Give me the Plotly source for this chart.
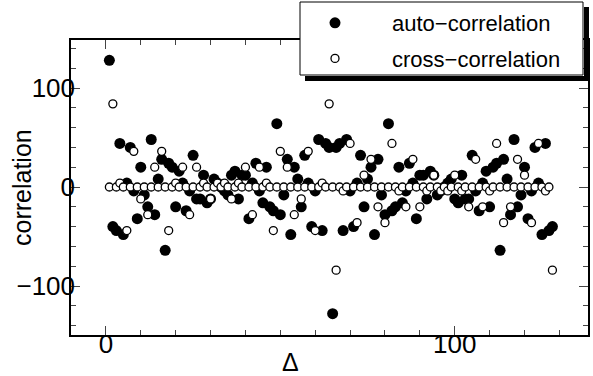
import plotly.graph_objects as go

# lag values
delta = list(range(1, 129))

# auto-correlation values (Δ = 1 … 128)
auto_corr = [128, -40, -44, 44, -48, 4, 40, -4, -32, 20,
             -8, -20, 48, -28, 8, 28, -64, 24, 20, -20,
             16, 4, -24, -4, 32, -12, -12, 12, -16, -12,
             8, 4, 0, -4, -8, 12, 16, -12, 12, 12,
             -32, 4, 24, -4, -16, 20, -20, -24, 64, -28,
             -8, 28, -48, 20, 8, -20, 32, 4, -40, -4,
             48, -44, 44, 40, -128, 40, 44, -44, 48, -4,
             -40, 4, 32, -20, 8, 20, -48, 28, -8, -28,
             64, -24, -20, 20, -16, -4, 24, 4, -32, 12,
             12, -12, 16, 12, -8, -4, 0, 4, 8, -12,
             -16, 12, -12, -12, 32, -4, -24, 4, 16, -20,
             20, 24, -64, 28, 8, -28, 48, -20, -8, 20,
             -32, -4, 40, 4, -48, 44, -44, -40]

# cross-correlation values (Δ = 1 … 128)
cross_corr = [0, 84, 0, 4, 0, -44, 0, 36, 0, -12,
              0, -28, 0, 20, 0, 36, 0, -44, 0, 4,
              0, 20, 0, -28, 0, 20, 0, 4, 0, -12,
              0, 4, 0, 4, 0, -12, 0, 4, 0, 20,
              0, -28, 0, 20, 0, 4, 0, -44, 0, 36,
              0, 20, 0, -28, 0, -12, 0, 36, 0, -44,
              0, 4, 0, 84, 0, -84, 0, -4, 0, 44,
              0, -36, 0, 12, 0, 28, 0, -20, 0, -36,
              0, 44, 0, -4, 0, -20, 0, 28, 0, -20,
              0, -4, 0, 12, 0, -4, 0, -4, 0, 12,
              0, -4, 0, -20, 0, 28, 0, -20, 0, -4,
              0, 44, 0, -36, 0, -20, 0, 28, 0, 12,
              0, -36, 0, 44, 0, -4, 0, -84]

x_ticks = [0, 100]
y_ticks = [-100, 0, 100]
legend_names = ["\u2002\u2002auto\u2212correlation", "\u2002\u2002cross\u2212correlation"]
x_title = "\u0394"
y_title = "correlation"

fig = go.Figure()
fig.add_trace(go.Scatter(x=delta, y=auto_corr, mode="markers", name=legend_names[0],
                         legendgroup="a",
                         marker=dict(symbol="circle", size=11, color="black", line=dict(width=0))))
fig.add_trace(go.Scatter(x=delta, y=cross_corr, mode="markers", name=legend_names[1],
                         legendgroup="b",
                         marker=dict(symbol="circle", size=8, color="white",
                                     line=dict(width=1.3, color="black"))))

L, R, T, B = 71, 5, 40, 41
W, H = 593, 376
pw, ph = W - L - R, H - T - B

def px(x):
    return (x - L) / pw

def py(y):
    return (H - B - y) / ph

def bar(x0, y0, w, h):
    # solid black strip (legend drop shadow) drawn as an empty annotation box
    return dict(text=" ", xref="paper", yref="paper", x=px(x0), y=py(y0),
                xanchor="left", yanchor="top", showarrow=False,
                width=w, height=h, bgcolor="black", borderpad=0, borderwidth=0,
                font=dict(size=1))

font = "Liberation Sans, Arial, sans-serif"
fig.update_layout(
    width=W, height=H,
    margin=dict(l=L, r=R, t=T, b=B, autoexpand=False),
    paper_bgcolor="white", plot_bgcolor="white",
    font=dict(family=font, color="black", size=26),
    showlegend=True,
    legend=dict(x=px(300), y=py(2), xanchor="left", yanchor="top",
                bgcolor="rgba(255,255,255,0)", borderwidth=0,
                font=dict(size=22), itemwidth=60, tracegroupgap=4),
    shapes=[
        dict(type="rect", xref="paper", yref="paper", layer="above",
             x0=px(300), x1=px(583), y0=py(75), y1=py(2),
             fillcolor="white", line=dict(color="black", width=1)),
    ],
    annotations=[
        bar(583.5, 7, 5, 73),
        bar(305, 75.5, 283, 5),
        dict(text=x_title, xref="paper", yref="paper", x=px(290), y=py(362),
             showarrow=False, font=dict(size=25), xanchor="center", yanchor="middle"),
        dict(text=y_title, xref="paper", yref="paper", x=px(22), y=py(188),
             showarrow=False, font=dict(size=25), textangle=-90,
             xanchor="center", yanchor="middle"),
    ],
)
fig.update_xaxes(range=[-10, 138.2], tickvals=x_ticks, ticks="inside", ticklen=9, tickwidth=1,
                 minor=dict(dtick=10, tick0=0, ticks="inside", ticklen=5, tickwidth=1),
                 showline=True, linecolor="black", linewidth=1.5, mirror="allticks",
                 showgrid=False, zeroline=False, automargin=False, ticklabelstandoff=-15,
                 tickfont=dict(size=26))
fig.update_yaxes(range=[-149.5, 148.5], tickvals=y_ticks, ticks="inside", ticklen=9, tickwidth=1,
                 minor=dict(dtick=20, tick0=0, ticks="inside", ticklen=5, tickwidth=1),
                 showline=True, linecolor="black", linewidth=1.5, mirror="allticks",
                 showgrid=False, zeroline=False, automargin=False, ticklabelstandoff=-11,
                 tickfont=dict(size=26))

fig.write_html("out.html", config={"displayModeBar": False},
               post_script="document.body.style.margin='0';document.body.style.overflow='hidden';")
